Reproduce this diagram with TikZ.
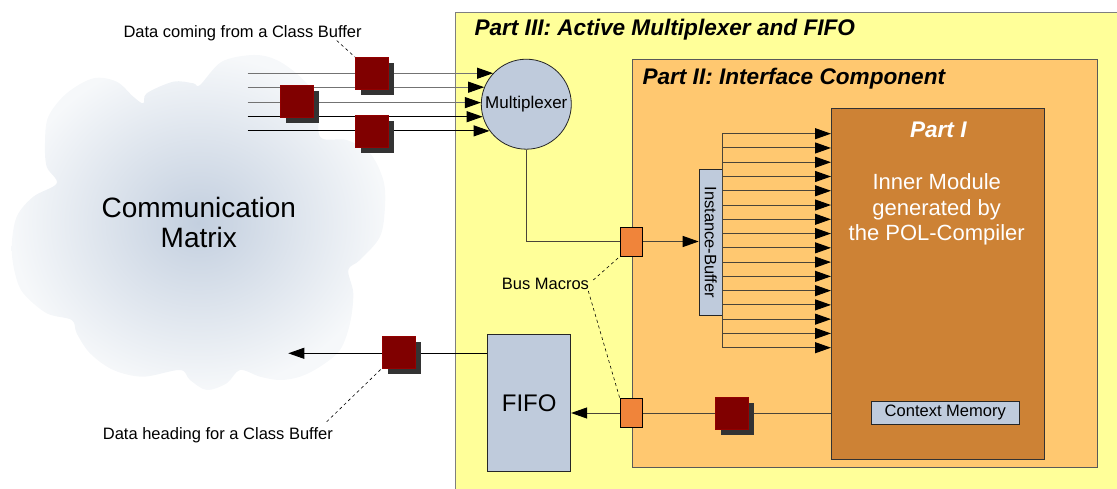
\documentclass[tikz,border=0pt]{standalone}
\usepackage{fontspec}
\setmainfont{Liberation Sans}
\usetikzlibrary{arrows.meta,shadows}
\definecolor{pthree}{HTML}{FFFF99}
\definecolor{ptwo}{HTML}{FFC870}
\definecolor{pone}{HTML}{CD8235}
\definecolor{lblue}{HTML}{BFCBDC}
\definecolor{dred}{HTML}{800000}
\definecolor{shad}{HTML}{333333}
\definecolor{bmac}{HTML}{F0843A}
\definecolor{cloudin}{HTML}{C3CFDF}
\definecolor{cloudout}{HTML}{F6F8FA}
\definecolor{frame}{HTML}{7F7F7F}
\definecolor{wirec}{HTML}{4A4438}
\begin{document}
\begin{tikzpicture}[x=1pt,y=-1pt,
  small/.style={font=\fontsize{16.5}{19}\selectfont},
  ttl/.style={font=\fontsize{22.6}{26}\selectfont\bfseries\itshape},
  arr/.style={line width=1pt,-{Triangle[length=16pt,width=11pt,color=black]}},
  wire/.style={line width=1pt,draw=wirec},
  pkt/.style={draw=dred!85!red,line width=0.6pt,fill=dred,minimum width=33pt,minimum height=32pt,inner sep=0pt,
    drop shadow={shadow xshift=5.7pt,shadow yshift=-5.7pt,fill=shad,opacity=1}},
  busmac/.style={draw=black,fill=bmac,line width=0.8pt,minimum width=22.5pt,minimum height=29pt,inner sep=0pt},
  bluebox/.style={draw=black!85,fill=lblue,line width=0.8pt,inner sep=0pt},
  leader/.style={line width=0.6pt,dash pattern=on 3pt off 3pt},
  part/.style={line width=1pt,inner sep=0pt,anchor=north west}]
\useasboundingbox (0,0) rectangle (1117,489);
\clip (0,0) rectangle (1117,489);

% containers
\node[part,draw=frame,fill=pthree,minimum width=680pt,minimum height=500pt] (p3) at (455,11.7) {};
\node[part,draw=black!65,fill=ptwo,minimum width=465.3pt,minimum height=407.4pt] (p2) at (631.7,59.3) {};
\node[part,draw=black!80,fill=pone,minimum width=212.7pt,minimum height=351pt] (p1) at (831,108.3) {};

% cloud
\shade[inner color=cloudin,outer color=cloudout]
  plot[smooth cycle,tension=0.55] coordinates {
  (200,85) (221.7,61.7) (253.3,55) (276.7,60) (300,76.7) (318.3,100) (320,136.7)
  (346.7,140) (370,153.3) (383.3,180) (385,206.7) (380,236.7) (360,260) (348.3,270)
  (353.3,293.3) (350,323.3) (340,350) (320,366.7) (300,376.7) (280,380) (260,376.7)
  (240,370) (226.7,383.3) (206.7,390) (190,380) (180,370) (143.3,376.7) (113.3,370)
  (90,353.3) (76.7,333.3) (71.7,320) (46.7,313.3) (23.3,293.3) (15,273.3) (11.7,246.7)
  (16.7,216.7) (33.3,196.7) (56.7,183.3) (46.7,166.7) (45,143.3) (48.3,116.7) (66.7,93.3)
  (93.3,78.3) (116.7,81.7) (133.3,96.7) (143.3,103.3) (146.7,93.3) (173.3,81.7) (193.3,83.3)};
\node[font=\fontsize{28}{30.6}\selectfont,align=center] (cm) at (198.8,222.5) {Communication\\Matrix};

% blocks
\node[bluebox,circle,minimum size=90pt,font=\fontsize{17}{19}\selectfont] (mux) at (526.3,104.2) {Multiplexer};
\node[bluebox,anchor=north west,minimum width=83pt,minimum height=137pt,font=\fontsize{24}{28}\selectfont] (fifo) at (487.3,334) {FIFO};
\node[bluebox,anchor=north west,minimum width=23.3pt,minimum height=146.3pt] (ib) at (698.7,168.7) {};
\node[small,rotate=-90] (ibl) at (ib.center) {Instance-Buffer};
\node[bluebox,anchor=north west,minimum width=147.7pt,minimum height=23.6pt,small] (cmem) at (871,400.7) {Context Memory};
\node[busmac] (bm1) at (631.6,241.5) {};
\node[busmac] (bm2) at (631.4,413) {};

% titles
\node[ttl,anchor=base west,inner sep=0pt] (t3) at (474.3,36) {Part III: Active Multiplexer and FIFO};
\node[ttl,anchor=base west,inner sep=0pt] (t2) at (642.3,84.8) {Part II: Interface Component};
\node[ttl,text=white,anchor=base,inner sep=0pt] (t1) at (938.3,137.7) {Part I};
\node[font=\fontsize{22}{25.4}\selectfont,text=white,align=center,inner sep=0pt] (inner) at (936.7,209.5) {Inner Module\\generated by\\the POL-Compiler};

% input lines to multiplexer
\coordinate (inx) at (247.7,0);
\draw[arr,draw=black!55] (mux.137.3 -| inx) -- (mux.137.3);
\draw[arr,draw=black!55] (mux.158.5 -| inx) -- (mux.158.5);
\draw[arr,draw=black!55] (mux.178.5 -| inx) -- (mux.178.5);
\draw[arr] (mux.196.9 -| inx) -- (mux.196.9);
\draw[arr] (mux.216.6 -| inx) -- (mux.216.6);

% multiplexer to bus macro to instance buffer
\draw[wire] (mux.south) |- (bm1.west);
\draw[arr,draw=wirec] (bm1.east) -- (bm1.east -| ib.west);

% fan of the instance buffer
\coordinate (f0) at (722,133.7);
\coordinate (f15) at (722,347.7);
\draw[wire] (f0) -- (f15);
\foreach \i in {0,...,15}{
  \coordinate (g\i) at (722,{133.7+14.2667*\i});
  \draw[arr,draw=wirec] (g\i) -- (g\i -| p1.west);
}

% return path
\draw[wire] (bm2.east -| p1.west) -- (bm2.east);
\draw[arr,draw=wirec] (bm2.west) -- (bm2.west -| fifo.east);
\coordinate (outtip) at (288.3,353.3);
\draw[arr] (fifo.west |- outtip) -- (outtip);

% packets
\node[pkt] (q1) at (371.7,73.3) {};
\node[pkt] (q2) at (296.7,101.7) {};
\node[pkt] (q3) at (371.7,131.2) {};
\node[pkt] (q4) at (398.5,352.2) {};
\node[pkt] (q5) at (732,413.7) {};

% labels and leaders
\node[small,anchor=base west,inner sep=0pt] (lin) at (123.3,37.7) {Data coming from a Class Buffer};
\node[small,anchor=base west,inner sep=0pt] (lout) at (102.7,439) {Data heading for a Class Buffer};
\node[small,anchor=base west,inner sep=0pt] (lbm) at (501.7,290) {Bus Macros};
\coordinate (din) at (336.7,40.5);
\coordinate (dout) at (326.7,421.7);
\coordinate (dbm1) at (593.3,280);
\coordinate (dbm2) at (588.3,291);
\draw[leader] (din) -- (q1.north west);
\draw[leader] (dout) -- (q4.south west);
\draw[leader] (dbm1) -- (bm1.south west);
\draw[leader] (dbm2) -- (bm2.north west);
\end{tikzpicture}
\end{document}
